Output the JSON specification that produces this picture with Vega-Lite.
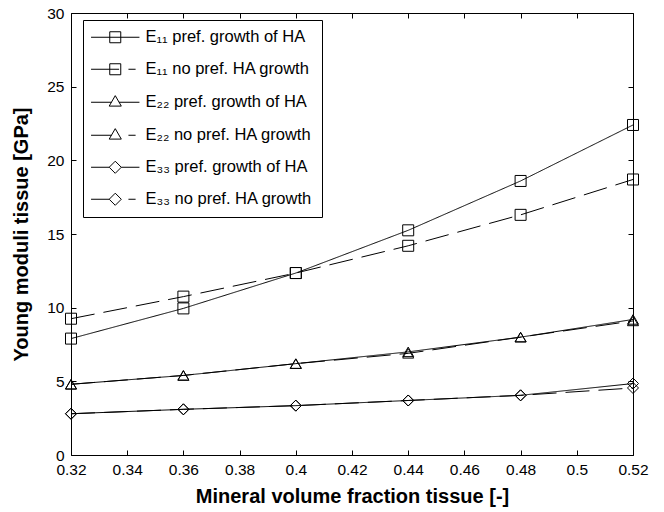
{
  "$schema": "https://vega.github.io/schema/vega-lite/v6.json",
  "autosize": "none",
  "width": 562,
  "height": 442,
  "padding": {"left": 71, "top": 13, "right": 31, "bottom": 57},
  "background": "white",
  "config": {
    "font": "Liberation Sans",
    "view": {"stroke": "black", "strokeWidth": 1},
    "axis": {"domain": false, "grid": false, "labelFlush": false, "labelOverlap": false, "tickColor": "black", "labelColor": "black", "titleColor": "black", "labelFont": "Liberation Sans", "labelFontSize": 15.5, "titleFont": "Liberation Sans", "titleFontSize": 20, "titleFontWeight": "bold", "tickSize": -5}
  },
  "data": {"values": [
    {"x": 0.32, "y": 7.9, "s": "E₁₁ pref. growth of HA", "g": "pref"},
    {"x": 0.36, "y": 9.95, "s": "E₁₁ pref. growth of HA", "g": "pref"},
    {"x": 0.40, "y": 12.35, "s": "E₁₁ pref. growth of HA", "g": "pref"},
    {"x": 0.44, "y": 15.25, "s": "E₁₁ pref. growth of HA", "g": "pref"},
    {"x": 0.48, "y": 18.6, "s": "E₁₁ pref. growth of HA", "g": "pref"},
    {"x": 0.52, "y": 22.4, "s": "E₁₁ pref. growth of HA", "g": "pref"},
    {"x": 0.32, "y": 9.25, "s": "E₁₁ no pref. HA growth", "g": "no pref"},
    {"x": 0.36, "y": 10.75, "s": "E₁₁ no pref. HA growth", "g": "no pref"},
    {"x": 0.40, "y": 12.35, "s": "E₁₁ no pref. HA growth", "g": "no pref"},
    {"x": 0.44, "y": 14.2, "s": "E₁₁ no pref. HA growth", "g": "no pref"},
    {"x": 0.48, "y": 16.3, "s": "E₁₁ no pref. HA growth", "g": "no pref"},
    {"x": 0.52, "y": 18.7, "s": "E₁₁ no pref. HA growth", "g": "no pref"},
    {"x": 0.32, "y": 4.8, "s": "E₂₂ pref. growth of HA", "g": "pref"},
    {"x": 0.36, "y": 5.4, "s": "E₂₂ pref. growth of HA", "g": "pref"},
    {"x": 0.40, "y": 6.2, "s": "E₂₂ pref. growth of HA", "g": "pref"},
    {"x": 0.44, "y": 7.0, "s": "E₂₂ pref. growth of HA", "g": "pref"},
    {"x": 0.48, "y": 8.0, "s": "E₂₂ pref. growth of HA", "g": "pref"},
    {"x": 0.52, "y": 9.2, "s": "E₂₂ pref. growth of HA", "g": "pref"},
    {"x": 0.32, "y": 4.8, "s": "E₂₂ no pref. HA growth", "g": "no pref"},
    {"x": 0.36, "y": 5.4, "s": "E₂₂ no pref. HA growth", "g": "no pref"},
    {"x": 0.40, "y": 6.2, "s": "E₂₂ no pref. HA growth", "g": "no pref"},
    {"x": 0.44, "y": 6.9, "s": "E₂₂ no pref. HA growth", "g": "no pref"},
    {"x": 0.48, "y": 8.0, "s": "E₂₂ no pref. HA growth", "g": "no pref"},
    {"x": 0.52, "y": 9.1, "s": "E₂₂ no pref. HA growth", "g": "no pref"},
    {"x": 0.32, "y": 2.8, "s": "E₃₃ pref. growth of HA", "g": "pref"},
    {"x": 0.36, "y": 3.1, "s": "E₃₃ pref. growth of HA", "g": "pref"},
    {"x": 0.40, "y": 3.35, "s": "E₃₃ pref. growth of HA", "g": "pref"},
    {"x": 0.44, "y": 3.7, "s": "E₃₃ pref. growth of HA", "g": "pref"},
    {"x": 0.48, "y": 4.05, "s": "E₃₃ pref. growth of HA", "g": "pref"},
    {"x": 0.52, "y": 4.85, "s": "E₃₃ pref. growth of HA", "g": "pref"},
    {"x": 0.32, "y": 2.8, "s": "E₃₃ no pref. HA growth", "g": "no pref"},
    {"x": 0.36, "y": 3.1, "s": "E₃₃ no pref. HA growth", "g": "no pref"},
    {"x": 0.40, "y": 3.35, "s": "E₃₃ no pref. HA growth", "g": "no pref"},
    {"x": 0.44, "y": 3.7, "s": "E₃₃ no pref. HA growth", "g": "no pref"},
    {"x": 0.48, "y": 4.05, "s": "E₃₃ no pref. HA growth", "g": "no pref"},
    {"x": 0.52, "y": 4.55, "s": "E₃₃ no pref. HA growth", "g": "no pref"}
  ]},
  "layer": [
    {
      "mark": {"type": "line", "color": "black", "strokeWidth": 1},
      "encoding": {
        "x": {"field": "x", "type": "quantitative", "scale": {"domain": [0.32, 0.52], "nice": false, "zero": false}, "axis": {"values": [0.32,0.34,0.36,0.38,0.4,0.42,0.44,0.46,0.48,0.5,0.52], "format": "~g", "title": "Mineral volume fraction tissue [-]", "labelPadding": 12, "titlePadding": 9}},
        "y": {"field": "y", "type": "quantitative", "scale": {"domain": [0, 30], "nice": false}, "axis": {"values": [0,5,10,15,20,25,30], "title": "Young moduli tissue [GPa]", "labelPadding": 12, "titlePadding": 15}},
        "detail": {"field": "s", "type": "nominal"},
        "strokeDash": {"field": "g", "type": "nominal", "legend": null, "scale": {"domain": ["pref", "no pref"], "range": [[1,0],[24,9]]}}
      }
    },
    {
      "mark": {"type": "point", "filled": false, "color": "black", "size": 121, "strokeWidth": 1, "opacity": 1},
      "encoding": {
        "x": {"field": "x", "type": "quantitative", "axis": null},
        "y": {"field": "y", "type": "quantitative", "axis": null},
        "shape": {"field": "s", "type": "nominal", "legend": null, "scale": {"domain": ["E₁₁ pref. growth of HA", "E₁₁ no pref. HA growth", "E₂₂ pref. growth of HA", "E₂₂ no pref. HA growth", "E₃₃ pref. growth of HA", "E₃₃ no pref. HA growth"], "range": ["square", "square", "triangle-up", "triangle-up", "diamond", "diamond"]}}
      }
    },
    {
      "mark": {"type": "point", "filled": false, "color": "black", "size": 121, "strokeWidth": 1, "opacity": 0},
      "encoding": {
        "x": {"field": "x", "type": "quantitative", "axis": null},
        "y": {"field": "y", "type": "quantitative", "axis": null},
        "shape": {"field": "s", "type": "nominal", "scale": {"domain": ["E₁₁ pref. growth of HA", "E₁₁ no pref. HA growth", "E₂₂ pref. growth of HA", "E₂₂ no pref. HA growth", "E₃₃ pref. growth of HA", "E₃₃ no pref. HA growth"], "range": ["M-1,-1H1V1H-1ZM-4.4,0H4.4", "M-1,-1H1V1H-1ZM-4.4,0H0.7M2.4,0H3.7", "M0,-1.2L1.1,0.7H-1.1ZM-4.4,0H-0.69M0.69,0H4.4", "M0,-1.2L1.1,0.7H-1.1ZM-4.4,0H-0.69M2.4,0H3.7", "M0,-1.1L1.1,0L0,1.1L-1.1,0ZM-4.4,0H-1.1M1.1,0H4.4", "M0,-1.1L1.1,0L0,1.1L-1.1,0ZM-4.4,0H-1.1M2.4,0H3.7"]},
          "legend": {"title": null, "orient": "none", "legendX": 12, "legendY": 7, "strokeColor": "black", "fillColor": "white", "padding": 9, "labelFontSize": 16.5, "labelLimit": 400, "labelColor": "black", "labelFont": "Liberation Sans", "symbolSize": 121, "symbolOpacity": 1, "symbolStrokeColor": "black", "symbolFillColor": "transparent", "symbolStrokeWidth": 1, "symbolOffset": 15, "labelOffset": 22, "rowPadding": 15}
        }
      }
    },
    {
      "mark": {"type": "rule", "opacity": 0},
      "encoding": {
        "x": {"field": "x", "type": "quantitative", "axis": {"orient": "top", "values": [0.32,0.34,0.36,0.38,0.4,0.42,0.44,0.46,0.48,0.5,0.52], "labels": false, "title": null}},
        "y": {"field": "y", "type": "quantitative", "axis": {"orient": "right", "values": [0,5,10,15,20,25,30], "labels": false, "title": null}}
      }
    }
  ],
  "resolve": {"axis": {"x": "independent", "y": "independent"}, "scale": {"shape": "independent"}}
}
